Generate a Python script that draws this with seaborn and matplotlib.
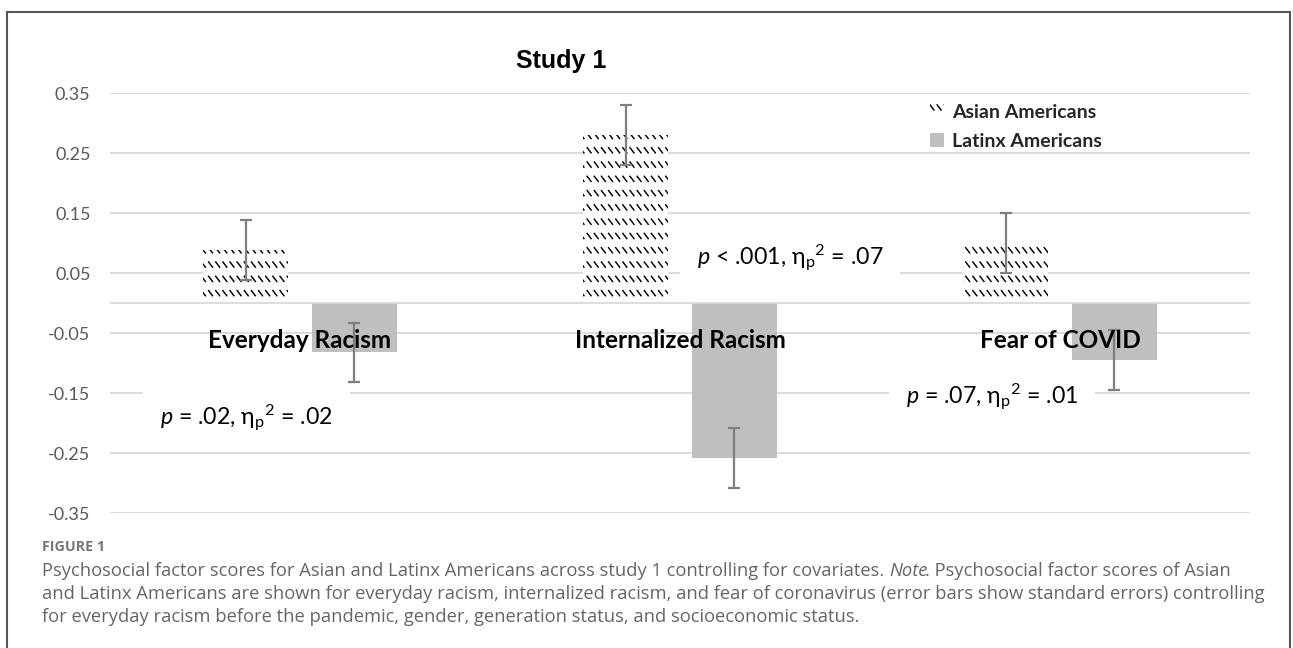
import warnings
warnings.filterwarnings("ignore")
import numpy as np
import pandas as pd
import matplotlib
matplotlib.use("Agg")
import matplotlib.pyplot as plt
import matplotlib.hatch as mhatch
from matplotlib.path import Path
from matplotlib.patches import Patch, Rectangle
from matplotlib.ticker import FixedLocator
import seaborn as sns

# ---------------- data ----------------
categories = ["Everyday Racism", "Internalized Racism", "Fear of COVID"]
groups = ["Asian Americans", "Latinx Americans"]
asian_scores = [0.088, 0.280, 0.100]
latinx_scores = [-0.082, -0.258, -0.095]
asian_se = [0.050, 0.050, 0.050]
latinx_se = [0.049, 0.050, 0.050]
y_ticks = [-0.35, -0.25, -0.15, -0.05, 0.05, 0.15, 0.25, 0.35]
y_tick_labels = ["-0.35", "-0.25", "-0.15", "-0.05", "0.05", "0.15", "0.25", "0.35"]
stat_labels = [
    r"$\mathit{p}$ = .02, $\mathrm{\eta_{p}}{}^{\mathrm{2}}$ = .02",
    r"$\mathit{p}$ < .001, $\mathrm{\eta_{p}}{}^{\mathrm{2}}$ = .07",
    r"$\mathit{p}$ = .07, $\mathrm{\eta_{p}}{}^{\mathrm{2}}$ = .01",
]
title_text = "Study 1"
figure_label = "FIGURE 1"
caption_line1 = ["Psychosocial factor scores for Asian and Latinx Americans across study 1 controlling for covariates.",
                 "Note", ". Psychosocial factor scores of Asian"]
caption_line2 = "and Latinx Americans are shown for everyday racism, internalized racism, and fear of coronavirus (error bars show standard errors) controlling"
caption_line3 = "for everyday racism before the pandemic, gender, generation status, and socioeconomic status."


# ---------------- custom dashed-row hatch (Excel-like pattern) ----------------
class DashRowHatch(mhatch.HatchPatternBase):
    rows, cols = 7, 14

    def __init__(self, hatch, density):
        self.num_vertices = (self.rows * self.cols * 2) if "d" in hatch else 0

    def set_vertices_and_codes(self, vertices, codes):
        k = 0
        for i in range(self.rows):
            for j in range(self.cols):
                x0 = (j + 0.2) / self.cols
                y0 = (i + 0.3) / self.rows
                vertices[k] = (x0, y0 + 0.36 / self.rows)
                vertices[k + 1] = (x0 + 0.55 / self.cols, y0)
                codes[k] = Path.MOVETO
                codes[k + 1] = Path.LINETO
                k += 2


mhatch._hatch_types.append(DashRowHatch)

# ---------------- style ----------------
sns.set_theme(style="white")
plt.rcParams["font.family"] = ["Lato", "DejaVu Sans"]
plt.rcParams["mathtext.fontset"] = "custom"
plt.rcParams["mathtext.rm"] = "Lato"
plt.rcParams["mathtext.it"] = "Lato:italic"
plt.rcParams["mathtext.bf"] = "Lato:bold"
plt.rcParams["hatch.linewidth"] = 1.05

W, H = 1293, 648
fig = plt.figure(figsize=(W / 100, H / 100), dpi=100)
fig.patch.set_facecolor("white")
ax = fig.add_axes([110 / W, 135 / H, 1140 / W, 420 / H])

df = pd.DataFrame({
    "category": categories * 2,
    "group": [groups[0]] * 3 + [groups[1]] * 3,
    "score": asian_scores + latinx_scores,
})

sns.barplot(data=df, x="category", y="score", hue="group", order=categories,
            hue_order=groups, palette=["white", "#bfbfbf"], width=0.57, gap=0.214,
            errorbar=None, legend=False, ax=ax)

for bar in ax.containers[0]:
    bar.set_hatch("d")
    bar.set_edgecolor("black")
    bar.set_linewidth(0)
for bar in ax.containers[1]:
    bar.set_edgecolor("none")
    bar.set_linewidth(0)

for cont, vals, ses in zip(ax.containers, [asian_scores, latinx_scores], [asian_se, latinx_se]):
    xs = [b.get_x() + b.get_width() / 2 for b in cont]
    ax.errorbar(xs, vals, yerr=ses, fmt="none", ecolor="#7f7f7f", elinewidth=1.6,
                capsize=4.0, capthick=1.6, zorder=3)

ax.set_xlim(-0.5, 2.5)
ax.set_ylim(-0.35, 0.35)
ax.set_yticks(y_ticks)
ax.set_yticklabels(y_tick_labels)
ax.set_xticks(range(len(categories)))
ax.set_xticklabels(categories)
ax.xaxis.set_minor_locator(FixedLocator([-0.5, 0.5, 1.5, 2.5]))
ax.tick_params(axis="x", which="major", length=0, pad=18.5, labelsize=17.5, labelcolor="black")
ax.tick_params(axis="x", which="minor", length=6.5, width=1.2, color="#d9d9d9", direction="out")
ax.tick_params(axis="y", length=0, pad=14, labelsize=13, labelcolor="#595959")
ax.set_xlabel("")
ax.set_ylabel("")
ax.grid(axis="y", color="#d9d9d9", linewidth=1.3)
ax.grid(axis="x", visible=False)
for s in ["top", "right", "left"]:
    ax.spines[s].set_visible(False)
ax.spines["bottom"].set_position(("data", 0))
ax.spines["bottom"].set_color("#d9d9d9")
ax.spines["bottom"].set_linewidth(1.3)
ax.set_axisbelow(True)
ax.xaxis.set_zorder(5)

# stat annotations
stat_pos = [(-0.368, -0.193), (1.045, 0.075), (1.595, -0.158)]
for (x, y), lab in zip(stat_pos, stat_labels):
    ax.text(x, y, lab, fontsize=16.7, color="black", ha="left", va="center", zorder=6,
            bbox=dict(facecolor="white", edgecolor="none", pad=12))

# title
fig.text(561 / W, 1 - 68 / H, title_text, ha="center", va="baseline",
         fontfamily="Liberation Sans", fontweight="bold", fontsize=18, color="black")

# legend
handles = [Patch(facecolor="white", edgecolor="black", hatch="d", linewidth=0),
           Patch(facecolor="#bfbfbf", edgecolor="none")]
fig.legend(handles, groups, loc="upper left", bbox_to_anchor=(930 / W, 1 - 104 / H),
           frameon=False, prop={"family": "Lato", "weight": "bold", "size": 14},
           handlelength=0.7, handleheight=0.7, handletextpad=0.45, labelspacing=0.6,
           borderpad=0, borderaxespad=0)

# outer frame
fig.add_artist(Rectangle((7 / W, -0.05), (1290 - 7) / W, 1.05 - 12 / H,
                         transform=fig.transFigure, fill=False, edgecolor="#555555",
                         linewidth=1.5))

# caption
cap_color = "#666666"
cap_fs = 13.2
fig.text(42 / W, 1 - 551 / H, figure_label, fontfamily="Open Sans", fontweight="bold",
         fontsize=10.3, color="#777777", va="baseline")
for lab in ax.get_xticklabels():
    lab.set_fontweight("bold")
    lab.set_color("black")
fig.canvas.draw()
r = fig.canvas.get_renderer()
y1 = 1 - 576 / H
t1 = fig.text(42 / W, y1, caption_line1[0], fontfamily="Open Sans", fontsize=cap_fs,
              color=cap_color, va="baseline")
bb1 = t1.get_window_extent(renderer=r)
space = cap_fs * 100 / 72 * 0.26
t2 = fig.text((bb1.x1 + space) / W, y1, caption_line1[1], fontfamily="Open Sans",
              fontstyle="italic", fontsize=cap_fs, color=cap_color, va="baseline")
bb2 = t2.get_window_extent(renderer=r)
fig.text((bb2.x1 - 2) / W, y1, caption_line1[2], fontfamily="Open Sans", fontsize=cap_fs,
         color=cap_color, va="baseline")
fig.text(42 / W, 1 - 599 / H, caption_line2, fontfamily="Open Sans", fontsize=cap_fs,
         color=cap_color, va="baseline")
fig.text(42 / W, 1 - 622 / H, caption_line3, fontfamily="Open Sans", fontsize=cap_fs,
         color=cap_color, va="baseline")

fig.savefig("out.png", dpi=100, facecolor="white")
